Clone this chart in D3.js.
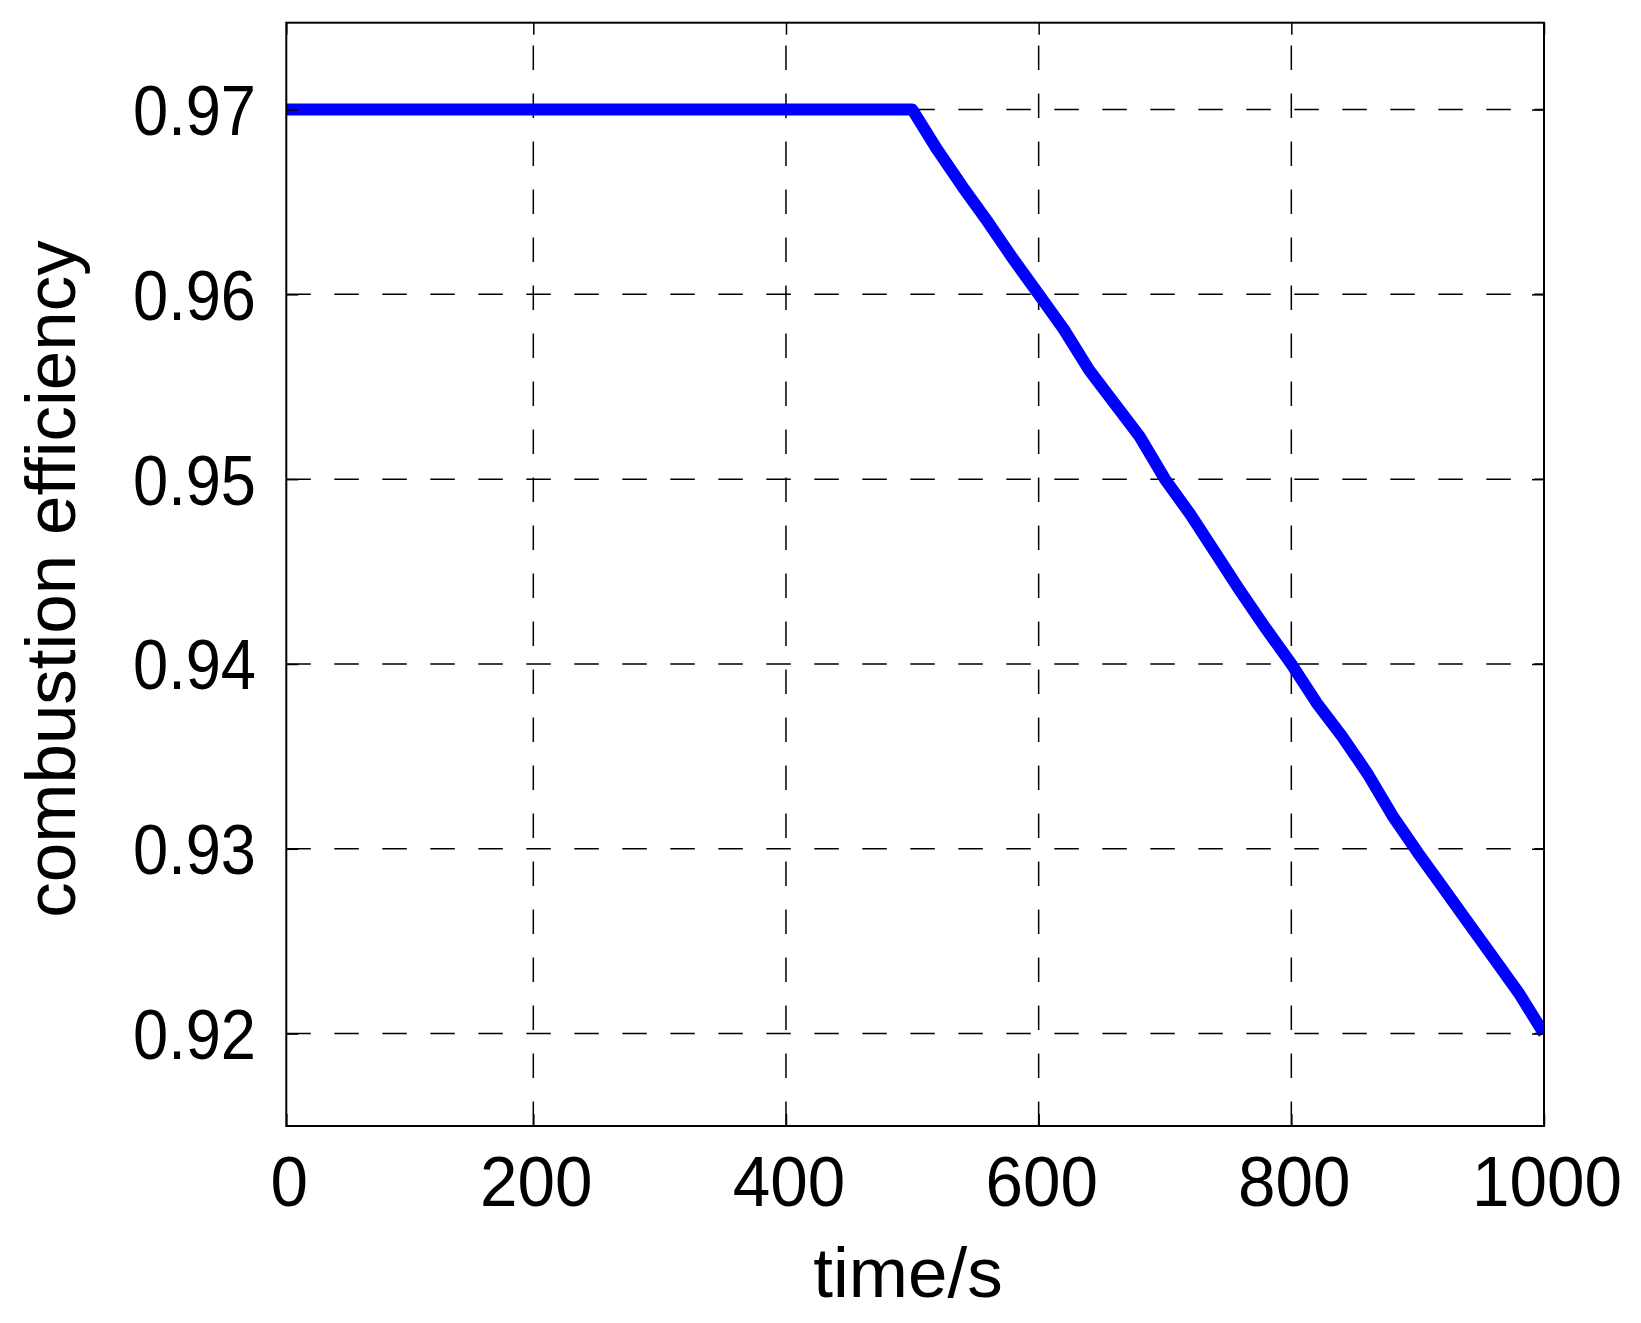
<!DOCTYPE html>
<html>
<head>
<meta charset="utf-8">
<script src="https://cdn.jsdelivr.net/npm/d3@7"></script>
<style>
  html, body { margin: 0; padding: 0; background: #ffffff; }
  svg { display: block; }
  text { font-family: "Liberation Sans", Arial, sans-serif; fill: #000; }
</style>
</head>
<body>
<svg id="chart" width="1641" height="1323"></svg>
<script>
// ---- data ----
const time = [0, 500, 520, 540, 560, 580, 600, 620, 640, 660, 680, 700, 720, 740, 760, 780, 800, 820, 840, 860, 880, 900, 920, 940, 960, 980, 1000];
const efficiency = [0.9700, 0.9700, 0.9678, 0.9658, 0.9639, 0.9619, 0.9600, 0.9581, 0.9559, 0.9541, 0.9523, 0.9500, 0.9481, 0.9460, 0.9439, 0.9419, 0.9400, 0.9379, 0.9361, 0.9341, 0.9318, 0.9298, 0.9279, 0.9260, 0.9241, 0.9222, 0.9200];
const xTicks = [0, 200, 400, 600, 800, 1000];
const yTicks = [0.92, 0.93, 0.94, 0.95, 0.96, 0.97];
const xLabel = "time/s";
const yLabel = "combustion efficiency";

(function () {
// ---- layout ----
const pLeft = 286.3, pRight = 1544, pTop = 22.7, pBottom = 1126;
const fontSize = 71;

const svg = d3.select("#chart");
svg.append("rect").attr("width", 1641).attr("height", 1323).attr("fill", "#fff");

const x = d3.scaleLinear().domain([0, 200, 1000]).range([pLeft, 533.3, pRight]);
const y = d3.scaleLinear().domain([0.915, 0.9747]).range([pBottom, pTop]);

// clip
svg.append("defs").append("clipPath").attr("id", "plotclip")
  .append("rect").attr("x", pLeft).attr("y", pTop)
  .attr("width", pRight - pLeft).attr("height", pBottom - pTop);

// grid lines
const grid = svg.append("g").attr("stroke", "#000").attr("stroke-width", 1.5)
  .attr("stroke-dasharray", "24.5,23.5").attr("fill", "none");
grid.selectAll("line.vg").data(xTicks.filter(t => t > 0 && t < 1000)).join("line")
  .attr("class", "vg")
  .attr("x1", d => x(d)).attr("x2", d => x(d))
  .attr("y1", pBottom).attr("y2", pTop);
grid.selectAll("line.hg").data(yTicks).join("line")
  .attr("class", "hg")
  .attr("x1", pLeft).attr("x2", pRight)
  .attr("y1", d => y(d)).attr("y2", d => y(d));

// data line
const pts = time.map((t, i) => [t, efficiency[i]]);
svg.append("path")
  .datum(pts)
  .attr("clip-path", "url(#plotclip)")
  .attr("fill", "none")
  .attr("stroke", "#0000ff")
  .attr("stroke-width", 12)
  .attr("stroke-linejoin", "round")
  .attr("stroke-linecap", "butt")
  .attr("d", d3.line().x(d => x(d[0])).y(d => y(d[1])));

// axes (ticks inward, no domain path; frame drawn separately)
const tickLen = 12;
const xAxisB = d3.axisBottom(x).tickValues(xTicks).tickSize(-tickLen).tickFormat("");
const xAxisT = d3.axisTop(x).tickValues(xTicks).tickSize(-tickLen).tickFormat("");
const yAxisL = d3.axisLeft(y).tickValues(yTicks).tickSize(-tickLen).tickFormat("");
const yAxisR = d3.axisRight(y).tickValues(yTicks).tickSize(-tickLen).tickFormat("");

function styleAxis(g) {
  g.select(".domain").remove();
  g.selectAll(".tick line").attr("stroke", "#000").attr("stroke-width", 1.5);
}
svg.append("g").attr("transform", `translate(0,${pBottom})`).call(xAxisB).call(styleAxis);
svg.append("g").attr("transform", `translate(0,${pTop})`).call(xAxisT).call(styleAxis);
svg.append("g").attr("transform", `translate(${pLeft},0)`).call(yAxisL).call(styleAxis);
svg.append("g").attr("transform", `translate(${pRight},0)`).call(yAxisR).call(styleAxis);

// frame
svg.append("rect")
  .attr("x", pLeft).attr("y", pTop)
  .attr("width", pRight - pLeft).attr("height", pBottom - pTop)
  .attr("fill", "none").attr("stroke", "#000").attr("stroke-width", 2);

// tick labels
svg.append("g").selectAll("text").data(xTicks).join("text")
  .attr("transform", d => `translate(${x(d) + 3},1206) scale(0.95,1)`)
  .attr("text-anchor", "middle")
  .attr("font-size", fontSize)
  .text(d => d3.format("d")(d));

svg.append("g").selectAll("text").data(yTicks).join("text")
  .attr("transform", d => `translate(256,${y(d) + 25.5}) scale(0.89,1)`)
  .attr("text-anchor", "end")
  .attr("font-size", fontSize)
  .text(d => d3.format(".2f")(d));

// axis labels
svg.append("text")
  .attr("x", 908).attr("y", 1297)
  .attr("text-anchor", "middle")
  .attr("font-size", fontSize)
  .text(xLabel);

svg.append("text")
  .attr("transform", "translate(75,579) rotate(-90)")
  .attr("text-anchor", "middle")
  .attr("font-size", fontSize)
  .text(yLabel);
})();
</script>
</body>
</html>
